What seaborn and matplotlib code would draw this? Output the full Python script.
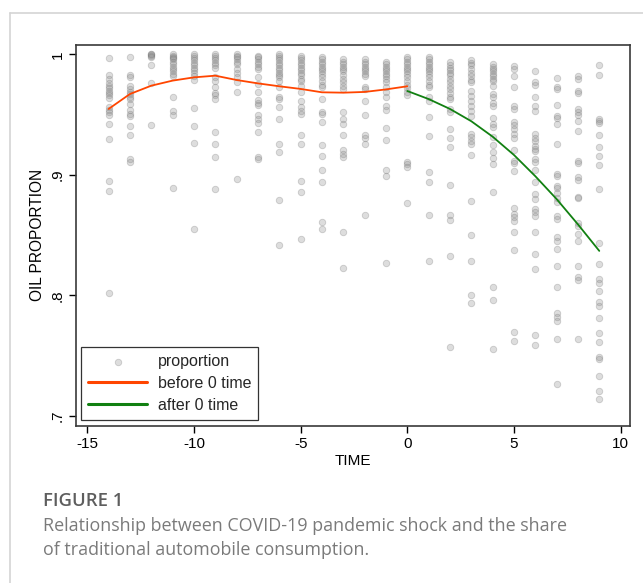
import numpy as np
import pandas as pd
import matplotlib
matplotlib.use("Agg")
import matplotlib.pyplot as plt
from matplotlib.lines import Line2D
import seaborn as sns

# ---------------- data ----------------
prop_m14 = [0.9974, 0.983, 0.980, 0.976, 0.974, 0.972, 0.970, 0.968, 0.966, 0.964, 0.956, 0.954, 0.952, 0.950, 0.942, 0.930, 0.895, 0.887, 0.802]
prop_m13 = [0.998, 0.983, 0.981, 0.974, 0.971, 0.969, 0.967, 0.965, 0.963, 0.959, 0.954, 0.951, 0.949, 0.941, 0.933, 0.913, 0.911]
prop_m12 = [1.000, 1.000, 0.9995, 0.999, 0.998, 0.9915, 0.976, 0.9415]
prop_m11 = [1.000, 0.999, 0.998, 0.997, 0.996, 0.994, 0.992, 0.990, 0.988, 0.986, 0.984, 0.982, 0.9645, 0.9534, 0.9495, 0.889]
prop_m10 = [1.000, 0.999, 0.997, 0.995, 0.993, 0.991, 0.989, 0.987, 0.985, 0.982, 0.979, 0.9559, 0.9407, 0.9268, 0.8555]
prop_m9 = [1.000, 0.999, 0.997, 0.995, 0.993, 0.991, 0.989, 0.981, 0.978, 0.973, 0.968, 0.966, 0.963, 0.936, 0.9257, 0.9146, 0.888]
prop_m8 = [1.000, 0.999, 0.998, 0.996, 0.994, 0.992, 0.988, 0.9844, 0.981, 0.977, 0.9686, 0.8967]
prop_m7 = [0.999, 0.998, 0.996, 0.994, 0.992, 0.990, 0.988, 0.981, 0.9755, 0.9686, 0.962, 0.960, 0.958, 0.950, 0.9465, 0.9434, 0.936, 0.915, 0.913]
prop_m6 = [1.000, 0.999, 0.997, 0.995, 0.993, 0.991, 0.989, 0.987, 0.985, 0.983, 0.981, 0.978, 0.9728, 0.9645, 0.963, 0.9567, 0.9465, 0.9257, 0.919, 0.879, 0.8416]
prop_m5 = [0.999, 0.997, 0.995, 0.993, 0.991, 0.989, 0.987, 0.985, 0.983, 0.980, 0.978, 0.974, 0.9686, 0.9617, 0.956, 0.9534, 0.9506, 0.9335, 0.926, 0.895, 0.886, 0.847]
prop_m4 = [0.9976, 0.996, 0.994, 0.992, 0.990, 0.988, 0.986, 0.984, 0.981, 0.978, 0.975, 0.9728, 0.963, 0.952, 0.9505, 0.9437, 0.925, 0.916, 0.9044, 0.8945, 0.861, 0.8555]
prop_m3 = [0.996, 0.994, 0.992, 0.990, 0.988, 0.986, 0.983, 0.980, 0.977, 0.974, 0.971, 0.9526, 0.9465, 0.942, 0.9335, 0.9207, 0.9174, 0.915, 0.8527, 0.823]
prop_m2 = [0.996, 0.994, 0.992, 0.990, 0.988, 0.986, 0.984, 0.982, 0.9728, 0.9714, 0.9617, 0.950, 0.9335, 0.931, 0.9257, 0.8668]
prop_m1 = [0.9935, 0.992, 0.990, 0.988, 0.986, 0.984, 0.982, 0.980, 0.977, 0.973, 0.969, 0.9645, 0.9575, 0.954, 0.9387, 0.929, 0.904, 0.899, 0.827]
prop_0 = [0.9976, 0.996, 0.994, 0.992, 0.990, 0.988, 0.986, 0.984, 0.981, 0.978, 0.975, 0.972, 0.969, 0.9665, 0.911, 0.909, 0.907, 0.877]
prop_1 = [0.9976, 0.996, 0.994, 0.992, 0.990, 0.988, 0.986, 0.984, 0.981, 0.978, 0.975, 0.9728, 0.9645, 0.9617, 0.948, 0.9326, 0.9025, 0.894, 0.8665, 0.829]
prop_2 = [0.9935, 0.991, 0.989, 0.987, 0.985, 0.983, 0.980, 0.977, 0.974, 0.971, 0.968, 0.965, 0.963, 0.9548, 0.952, 0.938, 0.9307, 0.923, 0.892, 0.867, 0.863, 0.8325, 0.7575]
prop_3 = [0.995, 0.993, 0.991, 0.988, 0.985, 0.982, 0.979, 0.977, 0.970, 0.9658, 0.9617, 0.9575, 0.9534, 0.949, 0.934, 0.9313, 0.9285, 0.926, 0.9166, 0.8787, 0.850, 0.829, 0.800, 0.7935]
prop_4 = [0.992, 0.990, 0.988, 0.986, 0.984, 0.982, 0.980, 0.978, 0.974, 0.967, 0.9645, 0.960, 0.9575, 0.9473, 0.9423, 0.9395, 0.9313, 0.925, 0.919, 0.914, 0.909, 0.8856, 0.807, 0.796, 0.7559]
prop_5 = [0.9907, 0.988, 0.9824, 0.9733, 0.9575, 0.9548, 0.9443, 0.9415, 0.9382, 0.934, 0.931, 0.9207, 0.9119, 0.910, 0.903, 0.8723, 0.868, 0.865, 0.862, 0.8524, 0.8375, 0.770, 0.762]
prop_6 = [0.9866, 0.9769, 0.975, 0.9645, 0.9575, 0.953, 0.934, 0.931, 0.928, 0.9243, 0.9216, 0.9196, 0.913, 0.9105, 0.904, 0.894, 0.8842, 0.880, 0.8718, 0.869, 0.866, 0.8524, 0.8344, 0.822, 0.7675, 0.759]
prop_7 = [0.9805, 0.9733, 0.9714, 0.9584, 0.9492, 0.9473, 0.9423, 0.9257, 0.9008, 0.8994, 0.8911, 0.889, 0.8848, 0.8806, 0.8773, 0.866, 0.8635, 0.8483, 0.8455, 0.8386, 0.8242, 0.8068, 0.7852, 0.7825, 0.779, 0.764, 0.7265]
prop_8 = [0.9824, 0.9797, 0.970, 0.9677, 0.9548, 0.952, 0.950, 0.9445, 0.9362, 0.9119, 0.910, 0.898, 0.896, 0.882, 0.8806, 0.860, 0.858, 0.851, 0.8455, 0.8247, 0.815, 0.813, 0.764]
prop_9 = [0.9916, 0.9833, 0.9465, 0.9445, 0.943, 0.9335, 0.9235, 0.9158, 0.9086, 0.8884, 0.8433, 0.8261, 0.8137, 0.810, 0.804, 0.795, 0.7916, 0.7815, 0.7686, 0.7612, 0.7493, 0.7473, 0.733, 0.721, 0.714]

time_values = list(range(-14, 10))
proportion_groups = [prop_m14, prop_m13, prop_m12, prop_m11, prop_m10, prop_m9, prop_m8,
                     prop_m7, prop_m6, prop_m5, prop_m4, prop_m3, prop_m2, prop_m1, prop_0,
                     prop_1, prop_2, prop_3, prop_4, prop_5, prop_6, prop_7, prop_8, prop_9]

before_time = list(range(-14, 1))
before_fit = [0.9548, 0.9672, 0.9741, 0.9783, 0.9810, 0.9824, 0.9788, 0.9760, 0.9736, 0.9714,
              0.9686, 0.9683, 0.9689, 0.9710, 0.9736]
after_time = list(range(0, 10))
after_fit = [0.9697, 0.9630, 0.9548, 0.9446, 0.9318, 0.9166, 0.8990, 0.8800, 0.8590, 0.8370]

x_ticks = [-15, -10, -5, 0, 5, 10]
x_tick_labels = ["-15", "-10", "-5", "0", "5", "10"]
y_ticks = [0.7, 0.8, 0.9, 1.0]
y_tick_labels = [".7", ".8", ".9", "1"]

# ---------------- build tables ----------------
scatter_df = pd.DataFrame({
    "TIME": np.concatenate([[t] * len(g) for t, g in zip(time_values, proportion_groups)]),
    "proportion": np.concatenate(proportion_groups),
})
before_df = pd.DataFrame({"TIME": before_time, "fit": before_fit})
after_df = pd.DataFrame({"TIME": after_time, "fit": after_fit})

# ---------------- style ----------------
sns.set_theme(style="white")
plt.rcParams["font.family"] = ["Liberation Sans", "DejaVu Sans"]

W, H = 643, 583
fig = plt.figure(figsize=(W / 100, H / 100), dpi=100)
fig.patch.set_facecolor("white")

ax_left, ax_right, ax_top, ax_bot = 76, 630, 44.7, 426
ax = fig.add_axes([ax_left / W, 1 - ax_bot / H, (ax_right - ax_left) / W, (ax_bot - ax_top) / H])

sns.scatterplot(data=scatter_df, x="TIME", y="proportion", ax=ax, s=22,
                color="#8f8f8f", alpha=0.3, edgecolor="#707070", linewidth=0.6,
                label="proportion", zorder=2)
sns.lineplot(data=before_df, x="TIME", y="fit", ax=ax, color="#ff4500", linewidth=1.3,
             label="before 0 time", zorder=3)
sns.lineplot(data=after_df, x="TIME", y="fit", ax=ax, color="#118011", linewidth=1.3,
             label="after 0 time", zorder=3)

ax.set_xlim(-15.53, 10.44)
ax.set_ylim(0.6917, 1.0081)
ax.set_xticks(x_ticks)
ax.set_xticklabels(x_tick_labels, fontsize=11)
ax.set_yticks(y_ticks)
ax.set_yticklabels(y_tick_labels, fontsize=11, rotation=90, va="center")
ax.tick_params(axis="both", which="major", direction="out", length=5, width=1,
               color="black", labelcolor="black", left=True, bottom=True, pad=3)
ax.set_xlabel("TIME", fontsize=11, color="black", labelpad=2)
ax.set_ylabel("OIL PROPORTION", fontsize=11.2, color="black", labelpad=4)
for sp in ax.spines.values():
    sp.set_color("#3a3a3a")
    sp.set_linewidth(1.2)

leg = ax.legend(loc="lower left", bbox_to_anchor=(0.009, 0.016), borderaxespad=0,
                fontsize=11.5, frameon=True, fancybox=False, handlelength=3.7,
                handletextpad=0.65, labelspacing=0.42, borderpad=0.45)
leg.get_frame().set_edgecolor("black")
leg.get_frame().set_linewidth(0.9)
for h in leg.legend_handles:
    if isinstance(h, Line2D):
        h.set_linewidth(2.2)

# ---------------- page frame and caption ----------------
fig.add_artist(Line2D([10 / W, 10 / W], [0, 1 - 13 / H], transform=fig.transFigure,
                      color="#d4d4d4", linewidth=1.2))
fig.add_artist(Line2D([10 / W, 1], [1 - 13 / H, 1 - 13 / H], transform=fig.transFigure,
                      color="#d4d4d4", linewidth=1.2))

fig.text(43 / W, 1 - 501 / H, "FIGURE 1", fontsize=13.3, fontweight="semibold",
         color="#5e5e5e", va="center", ha="left", family=["Open Sans", "DejaVu Sans"])
fig.text(43 / W, 1 - 526 / H, "Relationship between COVID-19 pandemic shock and the share",
         fontsize=12.9, color="#7a7a7a", va="center", ha="left", family=["Open Sans", "DejaVu Sans"])
fig.text(43 / W, 1 - 550 / H, "of traditional automobile consumption.",
         fontsize=12.9, color="#7a7a7a", va="center", ha="left", family=["Open Sans", "DejaVu Sans"])

fig.savefig("out.png", dpi=100, facecolor="white")
